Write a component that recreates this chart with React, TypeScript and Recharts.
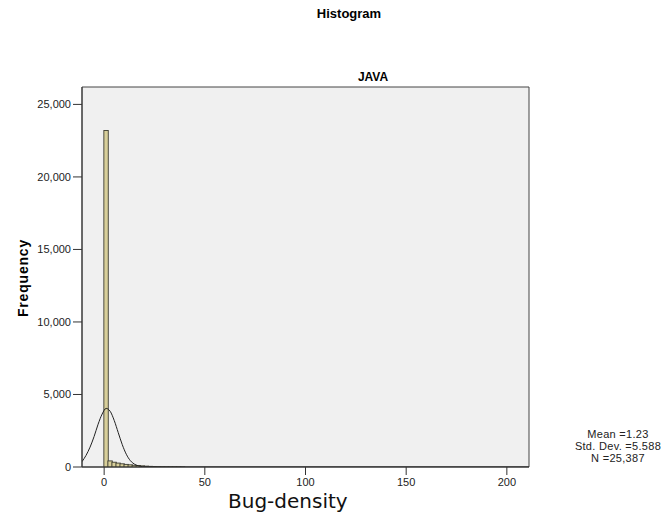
import React from 'react';
import {
  ComposedChart,
  Bar,
  Line,
  XAxis,
  YAxis,
  CartesianGrid,
  ReferenceArea,
} from 'recharts';

// histogram bins (width 2), centre of bin and count
const binCenters = [1, 3, 5, 7, 9, 11, 13, 15, 17, 19, 21, 23, 25, 27, 29, 31, 33, 35, 37, 39];
const binCounts = [23200, 420, 330, 270, 220, 180, 150, 120, 100, 80, 60, 45, 35, 25, 20, 15, 12, 10, 8, 5];

// fitted normal curve
const curveX = [-11, -9, -7, -5, -3, -1, 1, 3, 5, 7, 9, 11, 13, 15, 17, 19, 21, 24, 211];
const curveY = [370, 800, 1370, 2100, 2950, 3650, 4040, 3840, 3210, 2370, 1540, 880, 440, 200, 75, 25, 8, 0, 0];

const xTicks = [0, 50, 100, 150, 200];
const yTicks = [0, 5000, 10000, 15000, 20000, 25000];

const stats = ['Mean =1.23', 'Std. Dev. =5.588', 'N =25,387'];

const bins = binCenters.map((x, i) => ({ x, count: binCounts[i] }));
const curve = curveX.map((x, i) => ({ x, curve: curveY[i] }));

const font = '"Liberation Sans", Arial, sans-serif';

// bar drawn at the bin centre Recharts gives, one bin (2 units) wide
const BinBar = (props: any) => {
  const { x, y, width, height } = props;
  if (!height || height <= 0) return null;
  const cx = x + width / 2;
  const w = 4.4;
  return <rect x={cx - w / 2} y={y} width={w} height={height} fill="#d8cf9a" stroke="#3c3c30" strokeWidth={0.9} />;
};

export default function App() {
  return (
    <div style={{ position: 'absolute', left: 0, top: 0, width: 663, height: 521, background: '#fff', fontFamily: font }}>
      <div style={{ position: 'absolute', top: 6, left: 0, width: 698, textAlign: 'center', fontWeight: 'bold', fontSize: 13 }}>
        Histogram
      </div>
      <div style={{ position: 'absolute', top: 70, left: 0, width: 746, textAlign: 'center', fontWeight: 'bold', fontSize: 12 }}>
        JAVA
      </div>
      <div
        style={{
          position: 'absolute',
          left: 23,
          top: 278,
          transform: 'translate(-50%, -50%) rotate(-90deg)',
          fontWeight: 'bold',
          fontSize: 14,
          letterSpacing: 0.8,
          whiteSpace: 'nowrap',
        }}
      >
        Frequency
      </div>
      <div
        style={{
          position: 'absolute',
          left: 228,
          top: 489,
          fontFamily: '"DejaVu Sans", sans-serif',
          fontSize: 20,
          color: '#111',
          whiteSpace: 'nowrap',
        }}
      >
        Bug-density
      </div>
      <div style={{ position: 'absolute', left: 563, top: 428, width: 110, textAlign: 'center', fontSize: 11, lineHeight: '12px', letterSpacing: 0.3, color: '#222' }}>
        {stats.map((s) => (
          <div key={s}>{s}</div>
        ))}
      </div>
      <ComposedChart
        width={663}
        height={521}
        data={bins}
        margin={{ top: 87, right: 134, bottom: 0, left: 0 }}
      >
        <CartesianGrid fill="#f0f0f0" horizontal={false} vertical={false} />
        <XAxis
          dataKey="x"
          type="number"
          domain={[-11, 211]}
          ticks={xTicks}
          allowDataOverflow
          height={54}
          tickSize={8}
          tickMargin={3}
          stroke="#333"
          tick={{ fill: '#222', fontSize: 11, fontFamily: font }}
        />
        <YAxis
          type="number"
          domain={[0, 26200]}
          ticks={yTicks}
          allowDataOverflow
          width={82}
          tickSize={9}
          tickMargin={2}
          stroke="#333"
          tickFormatter={(v: number) => v.toLocaleString('en-US')}
          tick={{ fill: '#222', fontSize: 11, fontFamily: font }}
        />
        <ReferenceArea x1={-11} x2={211} y1={0} y2={26200} fill="none" stroke="#444" strokeWidth={1} ifOverflow="visible" />
        <Bar dataKey="count" barSize={4} shape={BinBar} isAnimationActive={false} />
        <Line
          data={curve}
          dataKey="curve"
          type="monotone"
          stroke="#222"
          strokeWidth={1}
          dot={false}
          isAnimationActive={false}
        />
      </ComposedChart>
    </div>
  );
}
